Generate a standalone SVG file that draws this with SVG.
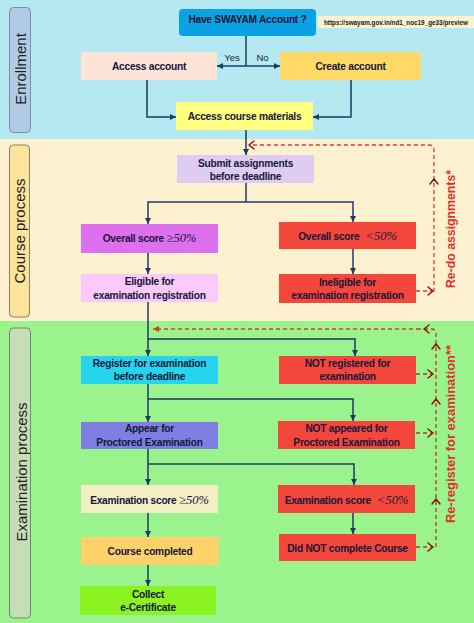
<svg xmlns="http://www.w3.org/2000/svg" width="474" height="623" viewBox="0 0 474 623">
<defs>
<style>
.t{font-family:"Liberation Sans",Arial,sans-serif;font-weight:bold;font-size:10.2px;letter-spacing:-0.25px;fill:#16163a;text-anchor:middle}
.m{font-family:"Liberation Serif","Times New Roman",serif;font-style:italic;font-weight:normal;font-size:12.5px;letter-spacing:0}
.lab{font-family:"Liberation Sans",Arial,sans-serif;font-size:15px;fill:#1e1e1e;text-anchor:middle}
.yn{font-family:"Liberation Sans",Arial,sans-serif;font-size:9.5px;fill:#1a1a3a;text-anchor:middle}
.red{font-family:"Liberation Sans",Arial,sans-serif;font-weight:bold;font-size:12.5px;fill:#e3302a;text-anchor:middle}
.c{stroke:#1f3864;stroke-width:1.5;fill:none;marker-end:url(#ah)}
.cn{stroke:#1f3864;stroke-width:1.5;fill:none}
.rd{stroke:#e5392a;stroke-width:1.3;stroke-dasharray:4 3;fill:none}
.rr{stroke:#b8391f;stroke-width:1.3;stroke-dasharray:4 3;fill:none}
.ch{stroke:#8b0a0a;stroke-width:1.4;fill:none;stroke-linecap:round;stroke-linejoin:round}
.rb{fill:#f4473b}
</style>
<marker id="ah" markerUnits="userSpaceOnUse" markerWidth="8" markerHeight="8" refX="6" refY="4" orient="auto">
<path d="M0,1 L6,4 L0,7 Z" fill="#1f3864"/>
</marker>
<marker id="rh" markerUnits="userSpaceOnUse" markerWidth="8" markerHeight="8" refX="6" refY="4" orient="auto">
<path d="M0,1 L6,4 L0,7 Z" fill="#e5302a"/>
</marker>
</defs>

<g id="sections">
<rect x="0" y="0" width="474" height="139" fill="#b4e9f1"/>
<rect x="0" y="139" width="474" height="182" fill="#fdf1cf"/>
<rect x="0" y="321" width="474" height="302" fill="#9bf38d"/>
<rect x="9.5" y="7.5" width="21" height="125" rx="4" fill="#b0cbe6" stroke="#7f8d9c"/>
<rect x="9.5" y="145" width="20" height="172" rx="4" fill="#fde39c" stroke="#8a8060"/>
<rect x="9.5" y="328" width="21" height="290" rx="4" fill="#c6deb6" stroke="#6f8a68"/>
<text class="lab" transform="translate(26,69) rotate(-90)">Enrollment</text>
<text class="lab" transform="translate(25,231) rotate(-90)">Course process</text>
<text class="lab" transform="translate(27,472) rotate(-90)">Examination process</text>
</g>

<g id="connectors">
<path class="cn" d="M246,36 V66"/>
<path class="c" d="M246,66 H217"/>
<path class="c" d="M246,66 H280"/>
<text class="yn" x="232" y="61">Yes</text>
<text class="yn" x="262.5" y="61">No</text>
<path class="c" d="M147,80 V117 H176"/>
<path class="c" d="M351,80 V117 H313"/>
<path class="c" d="M246,130 V155"/>
<path class="cn" d="M246,183 V202"/>
<path class="c" d="M246,202 H148 V224"/>
<path class="c" d="M246,202 H353 V222"/>
<path class="c" d="M148,253 V274"/>
<path class="c" d="M353,249 V274"/>
<path class="c" d="M148,302 V356"/>
<path class="c" d="M148,339 H355 V356"/>
<path class="c" d="M148,384 V422"/>
<path class="c" d="M148,399 H353 V421"/>
<path class="c" d="M148,449 V485"/>
<path class="c" d="M148,464 H354 V485"/>
<path class="c" d="M148,513 V537"/>
<path class="c" d="M353,513 V534"/>
<path class="c" d="M148,565 V586"/>

<path class="rd" d="M416,291 H432"/>
<path class="ch" d="M428,287 L433,291 L428,295"/>
<path class="rd" d="M434,292 V150 Q434,145 429,145 H252"/>
<path class="ch" d="M254,141 L249,145 L254,149"/>
<path class="ch" d="M430,184 L434,179 L438,184"/>

<path class="rr" d="M416,374 H432"/>
<path class="ch" d="M428,370 L433,374 L428,378"/>
<path class="rr" d="M416,433 H432"/>
<path class="ch" d="M428,429 L433,433 L428,437"/>
<path class="rr" d="M416,547 H432"/>
<path class="ch" d="M428,543 L433,547 L428,551"/>
<path class="rr" d="M436,547 V334 Q436,329 431,329 H420"/>
<path class="rd" d="M420,329 H153" style="marker-end:url(#rh)"/>
<path class="ch" d="M429,325 L424,329 L429,333"/>
<path class="ch" d="M432,349 L436,344 L440,349"/>
<path class="ch" d="M432,404 L436,399 L440,404"/>
<path class="ch" d="M432,504 L436,499 L440,504"/>
<text class="red" transform="translate(455,229) rotate(-90)" textLength="118" lengthAdjust="spacingAndGlyphs">Re-do assignments*</text>
<text class="red" transform="translate(455,434) rotate(-90)" textLength="178" lengthAdjust="spacingAndGlyphs">Re-register for examination**</text>
</g>

<g id="n-swayam">
<rect x="179" y="9" width="137" height="27" rx="4" fill="#0ba2e4"/>
<text class="t" x="247.5" y="23">Have SWAYAM Account ?</text>
</g>
<g id="n-url">
<rect x="318" y="16" width="156" height="12" fill="#fbf2d0"/>
<text x="396" y="25" font-family="Liberation Sans, Arial, sans-serif" font-weight="bold" font-size="6.5" fill="#1a1a1a" text-anchor="middle" textLength="144" lengthAdjust="spacingAndGlyphs">https://swayam.gov.in/nd1_noc19_ge33/preview</text>
</g>
<g id="n-access-account">
<rect x="81" y="52" width="136" height="28" fill="#fce4d6"/>
<text class="t" x="149" y="70">Access account</text>
</g>
<g id="n-create-account">
<rect x="280" y="52" width="141" height="28" fill="#fed966"/>
<text class="t" x="350.5" y="70">Create account</text>
</g>
<g id="n-course-materials">
<rect x="176" y="102" width="137" height="28" fill="#ffff80"/>
<text class="t" x="244.5" y="120">Access course materials</text>
</g>
<g id="n-submit">
<rect x="177" y="155" width="137" height="28" fill="#dfcdf1"/>
<text class="t" x="245.5" y="166.5">Submit assignments</text>
<text class="t" x="245.5" y="180">before deadline</text>
</g>
<g id="n-score-pass">
<rect x="81" y="224" width="137" height="29" fill="#de70f0"/>
<text class="t" x="149.5" y="242">Overall score <tspan class="m">≥50%</tspan></text>
</g>
<g id="n-score-fail">
<rect class="rb" x="279" y="222" width="137" height="27"/>
<text class="t" x="347.5" y="240">Overall score<tspan class="m" dx="6">&lt;50%</tspan></text>
</g>
<g id="n-eligible">
<rect x="81" y="274" width="137" height="28" fill="#fbc9fa"/>
<text class="t" x="149.5" y="285">Eligible for</text>
<text class="t" x="149.5" y="298.5">examination registration</text>
</g>
<g id="n-ineligible">
<rect class="rb" x="279" y="274" width="137" height="29"/>
<text class="t" x="347.5" y="285.5">Ineligible for</text>
<text class="t" x="347.5" y="299">examination registration</text>
</g>
<g id="n-register">
<rect x="81" y="356" width="137" height="28" fill="#25d5ee"/>
<text class="t" x="149.5" y="367">Register for examination</text>
<text class="t" x="149.5" y="380">before deadline</text>
</g>
<g id="n-not-registered">
<rect class="rb" x="279" y="356" width="137" height="28"/>
<text class="t" x="347.5" y="367">NOT registered for</text>
<text class="t" x="347.5" y="380">examination</text>
</g>
<g id="n-appear">
<rect x="81" y="422" width="137" height="27" fill="#7d80e0"/>
<text class="t" x="149.5" y="432">Appear for</text>
<text class="t" x="149.5" y="445.5">Proctored Examination</text>
</g>
<g id="n-not-appeared">
<rect class="rb" x="278" y="421" width="137" height="28"/>
<text class="t" x="346.5" y="432">NOT appeared for</text>
<text class="t" x="346.5" y="445.5">Proctored Examination</text>
</g>
<g id="n-exam-pass">
<rect x="81" y="485" width="137" height="28" fill="#f2efc4"/>
<text class="t" x="149.5" y="503.5">Examination score <tspan class="m">≥50%</tspan></text>
</g>
<g id="n-exam-fail">
<rect class="rb" x="278" y="485" width="137" height="28"/>
<text class="t" x="346.5" y="503.5">Examination score<tspan class="m" dx="6">&lt;50%</tspan></text>
</g>
<g id="n-completed">
<rect x="81" y="537" width="138" height="28" fill="#fed26b"/>
<text class="t" x="150" y="555">Course completed</text>
</g>
<g id="n-not-completed">
<rect class="rb" x="279" y="534" width="137" height="27"/>
<text class="t" x="347.5" y="552">Did NOT complete Course</text>
</g>
<g id="n-certificate">
<rect x="80" y="586" width="136" height="29" fill="#8bf321"/>
<text class="t" x="148" y="597.8">Collect</text>
<text class="t" x="148" y="611">e-Certificate</text>
</g>
</svg>
